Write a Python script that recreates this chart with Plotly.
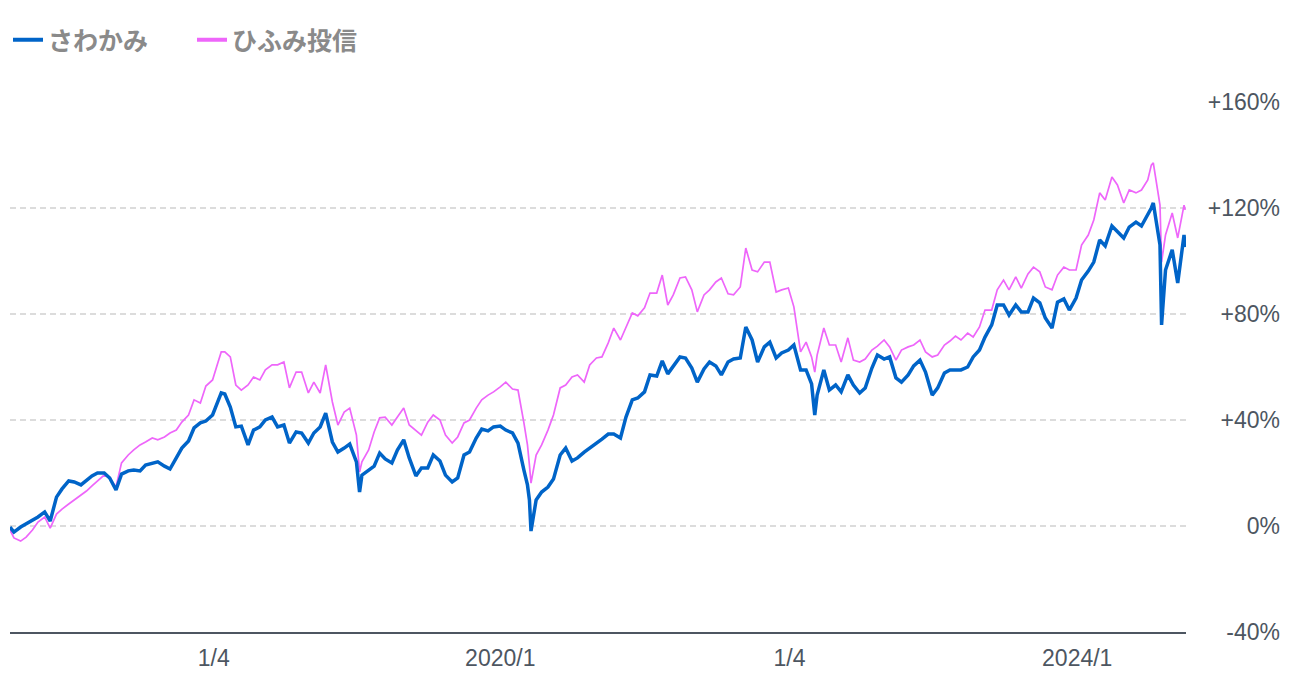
import plotly.graph_objects as go

dates = [
    "2016-08-05", "2016-08-15", "2016-09-01", "2016-09-15", "2016-10-01", "2016-10-15",
    "2016-11-01", "2016-11-15", "2016-12-01", "2016-12-15",
    "2017-01-01", "2017-01-15", "2017-02-01", "2017-02-15", "2017-03-01", "2017-03-15",
    "2017-04-01", "2017-04-15", "2017-05-01", "2017-05-15", "2017-06-01", "2017-06-15",
    "2017-07-01", "2017-07-15", "2017-08-01", "2017-08-15", "2017-09-01", "2017-09-15",
    "2017-10-01", "2017-10-15", "2017-11-01", "2017-11-15", "2017-12-01", "2017-12-15",
    "2018-01-01", "2018-01-15", "2018-01-23", "2018-02-01", "2018-02-15", "2018-03-01",
    "2018-03-15", "2018-04-01", "2018-04-15", "2018-05-01", "2018-05-15", "2018-06-01",
    "2018-06-15", "2018-07-01", "2018-07-15", "2018-08-01", "2018-08-15", "2018-09-01",
    "2018-09-15", "2018-10-01", "2018-10-15", "2018-11-01", "2018-11-15", "2018-12-01",
    "2018-12-15",
    "2019-01-01", "2019-01-09", "2019-01-15", "2019-02-01", "2019-02-15", "2019-03-01",
    "2019-03-15", "2019-04-01", "2019-04-15", "2019-05-01", "2019-05-15", "2019-06-01",
    "2019-06-15", "2019-07-01", "2019-07-15", "2019-08-01", "2019-08-15", "2019-09-01",
    "2019-09-15", "2019-10-01", "2019-10-15", "2019-11-01", "2019-11-15", "2019-12-01",
    "2019-12-15",
    "2020-01-01", "2020-01-15", "2020-02-01", "2020-02-15", "2020-03-01", "2020-03-10",
    "2020-03-15", "2020-03-19", "2020-04-01", "2020-04-15", "2020-05-01", "2020-05-15",
    "2020-06-01", "2020-06-15", "2020-07-01", "2020-07-15", "2020-08-01", "2020-08-15",
    "2020-09-01", "2020-09-15", "2020-10-01", "2020-10-15", "2020-11-01", "2020-11-15",
    "2020-12-01", "2020-12-15",
    "2021-01-01", "2021-01-15", "2021-02-01", "2021-02-15", "2021-03-01", "2021-03-15",
    "2021-04-01", "2021-04-15", "2021-05-01", "2021-05-15", "2021-06-01", "2021-06-15",
    "2021-07-01", "2021-07-15", "2021-08-01", "2021-08-15", "2021-09-01", "2021-09-15",
    "2021-10-01", "2021-10-15", "2021-11-01", "2021-11-15", "2021-12-01", "2021-12-15",
    "2022-01-01", "2022-01-15", "2022-02-01", "2022-02-15", "2022-03-01", "2022-03-09",
    "2022-03-15", "2022-04-01", "2022-04-15", "2022-05-01", "2022-05-15", "2022-06-01",
    "2022-06-15", "2022-07-01", "2022-07-15", "2022-08-01", "2022-08-15", "2022-09-01",
    "2022-09-15", "2022-10-01", "2022-10-15", "2022-11-01", "2022-11-15", "2022-12-01",
    "2022-12-15",
    "2023-01-01", "2023-01-15", "2023-02-01", "2023-02-15", "2023-03-01", "2023-03-15",
    "2023-04-01", "2023-04-15", "2023-05-01", "2023-05-15", "2023-06-01", "2023-06-15",
    "2023-07-01", "2023-07-15", "2023-08-01", "2023-08-15", "2023-09-01", "2023-09-15",
    "2023-10-01", "2023-10-15", "2023-11-01", "2023-11-15", "2023-12-01", "2023-12-15",
    "2024-01-01", "2024-01-15", "2024-02-01", "2024-02-15", "2024-03-01", "2024-03-15",
    "2024-04-01", "2024-04-15", "2024-05-01", "2024-05-15", "2024-06-01", "2024-06-15",
    "2024-07-01", "2024-07-10", "2024-07-15", "2024-08-01", "2024-08-05", "2024-08-15",
    "2024-09-01", "2024-09-15", "2024-10-01", "2024-10-04",
]

sawakami = [
    -0.4, -2.3, -0.4, 0.8, 1.9, 3.4, 5.3, 1.9, 10.9, 14.0,
    17.0, 16.6, 15.5, 17.4, 18.9, 20.0, 20.0, 18.1, 13.6, 19.6, 20.8, 21.1,
    20.8, 23.0, 23.8, 24.2, 22.6, 21.5, 25.7, 29.4, 32.1, 37.0, 38.9, 39.6,
    41.9, 47.6, 50.2, 49.8, 44.9, 37.4, 37.7, 30.6, 36.2, 37.4, 40.0, 41.1,
    37.4, 38.1, 31.3, 35.5, 35.1, 31.3, 35.1, 37.4, 42.6, 31.7, 27.9, 29.4, 30.9,
    24.2, 12.8, 19.2, 21.1, 22.6, 27.5, 25.3, 23.8, 28.7, 32.5, 25.7, 18.9,
    21.9, 21.9, 26.8, 24.5, 19.2, 16.6, 18.1, 26.8, 27.9, 33.2, 36.6, 35.9, 37.4,
    37.7, 36.2, 35.1, 31.3, 21.1, 15.5, 9.8, -1.9, 9.8, 12.8, 14.7, 17.7,
    26.8, 29.4, 24.5, 25.7, 27.9, 29.4, 30.9, 32.8, 34.7, 34.7, 33.2, 41.1,
    47.6, 48.3,
    50.6, 57.0, 56.6, 62.3, 57.4, 60.4, 63.8, 63.4, 59.6, 54.3, 59.3, 61.9,
    60.4, 57.0, 61.9, 63.0, 63.4, 75.1, 70.2, 61.9, 67.6, 69.4, 63.4, 65.3,
    66.4, 68.3, 58.9, 58.9, 53.6, 41.9, 49.4, 58.9, 51.3, 53.2, 50.6, 57.0,
    53.2, 50.2, 52.1, 59.6, 64.5, 63.0, 63.8, 55.9, 54.3, 57.0, 60.4, 62.6, 58.1,
    49.4, 52.1, 57.7, 58.9, 58.9, 58.9, 60.0, 63.8, 66.4, 71.3, 75.9, 83.4,
    83.4, 79.6, 83.4, 80.8, 80.8, 86.0, 84.2, 78.5, 74.7, 84.5, 85.7, 81.5,
    86.0, 92.8, 96.2, 99.6, 107.9, 105.7, 113.2, 111.3, 108.7, 112.8, 114.7, 113.2,
    117.4, 120.0, 121.9, 106.0, 75.9, 96.6, 104.2, 91.7, 109.8, 105.3,
]

hifumi = [
    -1.5, -4.5, -5.7, -4.2, -1.5, 1.5, 3.4, -0.8, 4.5, 6.4,
    8.3, 9.8, 11.7, 13.2, 15.1, 17.0, 19.2, 18.1, 14.7, 23.8, 26.8, 28.7,
    30.6, 31.7, 33.2, 32.5, 33.6, 35.1, 36.2, 39.2, 41.9, 47.6, 46.4, 52.8,
    55.1, 61.9, 65.7, 65.7, 63.8, 53.2, 51.3, 53.2, 56.2, 55.1, 58.9, 60.8,
    60.8, 61.9, 52.1, 58.1, 58.1, 50.2, 54.3, 50.2, 60.8, 46.8, 38.1, 43.0, 44.5,
    34.3, 20.4, 24.2, 28.7, 35.5, 40.8, 41.1, 38.1, 41.1, 44.5, 38.1, 36.2,
    34.3, 39.2, 41.9, 40.0, 34.3, 31.3, 33.6, 38.9, 40.0, 44.5, 47.6, 49.4, 50.6,
    52.5, 54.3, 51.7, 51.3, 38.9, 30.6, 23.0, 16.2, 26.8, 30.6, 36.2, 41.9,
    52.1, 53.2, 56.2, 57.0, 54.3, 60.8, 63.4, 63.8, 69.1, 74.7, 70.2, 75.1,
    80.4, 79.3,
    82.3, 87.9, 87.9, 94.7, 83.4, 87.2, 93.6, 94.0, 89.1, 80.8, 87.2, 89.1,
    92.1, 93.6, 87.6, 87.2, 90.2, 104.9, 96.6, 95.9, 99.6, 99.6, 88.3, 89.1,
    89.8, 82.7, 65.7, 69.4, 63.8, 58.1, 64.5, 74.7, 68.3, 68.3, 61.9, 71.0,
    62.6, 61.9, 63.0, 66.4, 67.9, 70.2, 67.6, 62.6, 66.4, 67.6, 68.3, 70.2, 65.7,
    63.8, 64.5, 68.3, 69.8, 71.7, 70.2, 72.8, 71.3, 75.1, 81.5, 81.5, 89.1,
    92.8, 89.1, 94.0, 89.8, 95.1, 97.7, 95.9, 90.2, 89.1, 94.7, 97.7, 96.6,
    96.6, 106.0, 109.8, 115.5, 125.7, 123.0, 131.7, 128.7, 121.9, 126.8, 125.7, 126.8,
    130.6, 136.2, 137.0, 121.1, 99.6, 109.8, 118.1, 108.7, 121.1, 119.3,
]

series_names = ["さわかみ", "ひふみ投信"]
x_tick_dates = ["2018-01-04", "2020-01-01", "2022-01-04", "2024-01-04"]
x_tick_text = ["1/4", "2020/1", "1/4", "2024/1"]
y_tick_vals = [-40, 0, 40, 80, 120, 160]
y_tick_text = ["-40%", "0%", "+40%", "+80%", "+120%", "+160%"]

BLUE = "#0064c8"
PINK = "#ee66fa"
TEXT = "#4d5661"

fig = go.Figure()
fig.add_trace(go.Scatter(x=dates, y=hifumi, mode="lines", line=dict(color=PINK, width=1.7),
                         showlegend=False, hoverinfo="skip"))
fig.add_trace(go.Scatter(x=dates, y=sawakami, mode="lines", line=dict(color=BLUE, width=3.5),
                         showlegend=False, hoverinfo="skip"))
# legend entries
fig.add_trace(go.Scatter(x=[None], y=[None], mode="lines", line=dict(color=BLUE, width=4),
                         name=series_names[0]))
fig.add_trace(go.Scatter(x=[None], y=[None], mode="lines", line=dict(color=PINK, width=4),
                         name=series_names[1]))

# the page body adds an 8px margin, so the figure is sized to fit inside it
W, H = 1288, 672
ml, mr, mt, mb = 2, 13, 94, 48
pw = W - ml - mr
ph = H - mt - mb
fig.update_layout(
    width=W, height=H,
    margin=dict(l=ml, r=mr, t=mt, b=mb, pad=0, autoexpand=False),
    paper_bgcolor="white", plot_bgcolor="white",
    font=dict(family="Liberation Sans, Arial, sans-serif", color=TEXT),
    showlegend=True,
    legend=dict(orientation="h", x=-2 / pw, xanchor="left", y=1 + (mt - 32) / ph,
                yanchor="middle", font=dict(family="Noto Sans CJK JP", size=25, color="#8a8a8a",
                                            weight="bold"),
                entrywidth=139, entrywidthmode="pixels", itemclick=False, itemdoubleclick=False),
    xaxis=dict(type="date", domain=[0, (1178 - ml) / pw],
               range=["2016-08-05", "2024-10-06"],
               tickmode="array", tickvals=x_tick_dates, ticktext=x_tick_text,
               tickfont=dict(size=23, color=TEXT), showgrid=False, zeroline=False,
               showline=True, linecolor=TEXT, linewidth=2,
               ticks="outside", ticklen=4, tickcolor="rgba(0,0,0,0)", anchor="y"),
    yaxis=dict(range=[-40, 160], side="right", anchor="free", position=1,
               ticklabelposition="inside", ticklabeloverflow="allow",
               tickmode="array", tickvals=y_tick_vals,
               ticktext=y_tick_text, tickfont=dict(size=23, color=TEXT),
               showgrid=True, gridcolor="#dcdcdc", gridwidth=2, griddash="6px,4px",
               zeroline=False, showline=False, ticks=""),
)

fig.write_html("out.html")
